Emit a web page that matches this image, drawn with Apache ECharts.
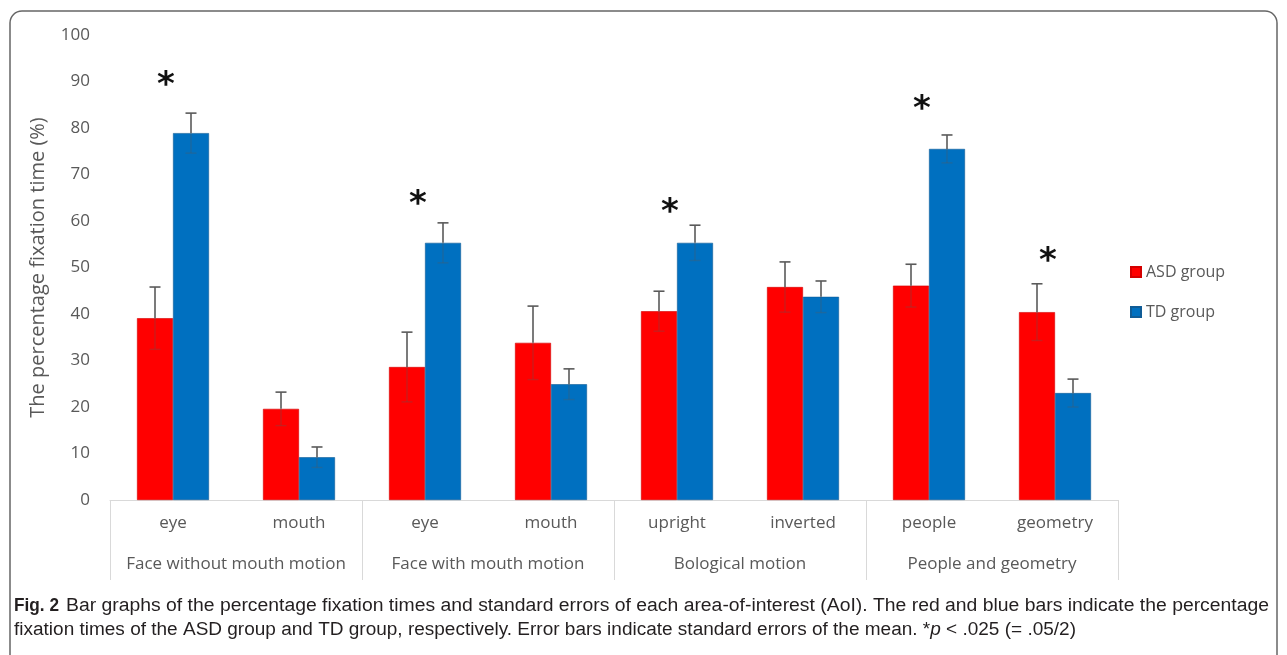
<!DOCTYPE html>
<html>
<head>
<meta charset="utf-8">
<script src="https://cdn.jsdelivr.net/npm/echarts@6/dist/echarts.min.js"></script>
<style>
  html, body { margin: 0; padding: 0; background: #fff; }
  #chart { width: 1287px; height: 655px; }
</style>
</head>
<body>
<div id="chart"></div>
<script>
// 子类别（AoI）与分组
const aoiLabels = ["eye", "mouth", "eye", "mouth", "upright", "inverted", "people", "geometry"];
const groupLabels = ["Face without mouth motion", "Face with mouth motion", "Bological motion", "People and geometry"];

// y 轴刻度
const yMin = 0;
const yMax = 100;
const yStep = 10;

// 注视时间百分比与标准误
const asdMean = [39.1, 19.6, 28.6, 33.8, 40.6, 45.8, 46.1, 40.4];
const asdSe = [6.7, 3.6, 7.5, 7.9, 4.3, 5.4, 4.6, 6.1];
const tdMean = [78.9, 9.2, 55.3, 24.9, 55.3, 43.7, 75.5, 23.0];
const tdSe = [4.3, 2.2, 4.3, 3.3, 3.8, 3.4, 3.0, 3.0];

// 显著性星号的高度（null 表示无）
const sigHeight = [90.8, null, 65.2, null, 63.4, null, 85.6, 52.9];

const captionBold = "Fig. 2";
const captionLine1 = "Bar graphs of the percentage fixation times and standard errors of each area-of-interest (AoI). The red and blue bars indicate the percentage";
const captionLine2a = "fixation times of the ASD group and TD group, respectively. Error bars indicate standard errors of the mean. *";
const captionLine2b = "p";
const captionLine2c = " < .025 (= .05/2)";

const labelFont = "'Open Sans', 'Noto Sans', sans-serif";
const capFont = "'Liberation Sans', Arial, sans-serif";
const capSize = 18;
const grey = "#595959";

// 用 canvas 量文字宽度，再横向缩放以贴合原图
const mctx = document.createElement("canvas").getContext("2d");
function textW(str, font) {
  mctx.font = font;
  return mctx.measureText(str).width;
}
const capNormal = capSize + "px " + capFont;
const cap1Scale = 1203 / textW(captionLine1, capNormal);
const cap2W = textW(captionLine2a, capNormal)
  + textW(captionLine2b, "italic " + capNormal)
  + textW(captionLine2c, capNormal);
const cap2Scale = 1062 / cap2W;
const boldScale = 45 / textW(captionBold, "bold " + capNormal);

const barW = 36;

function errorSeries(mean, se, shift) {
  return {
    type: "custom",
    xAxisIndex: 0,
    z: 5,
    silent: true,
    data: mean.map((m, i) => [i, m, se[i]]),
    renderItem(params, api) {
      const i = api.value(0), m = api.value(1), e = api.value(2);
      const base = api.coord([i, m]);
      const top = api.coord([i, m + e]);
      const bot = api.coord([i, m - e]);
      const x = base[0] + shift;
      const c = 5.5;
      const dark = { stroke: "#5a5a5a", lineWidth: 1.6 };
      const faint = { stroke: "rgba(90,90,90,0.3)", lineWidth: 1.4 };
      return {
        type: "group",
        children: [
          { type: "line", shape: { x1: x, y1: base[1], x2: x, y2: top[1] }, style: dark },
          { type: "line", shape: { x1: x - c, y1: top[1], x2: x + c, y2: top[1] }, style: dark },
          { type: "line", shape: { x1: x, y1: base[1], x2: x, y2: bot[1] }, style: faint },
          { type: "line", shape: { x1: x - c, y1: bot[1], x2: x + c, y2: bot[1] }, style: faint },
        ],
      };
    },
  };
}

const chart = echarts.init(document.getElementById("chart"));

const option = {
  animation: false,
  backgroundColor: "#fff",
  grid: { left: 110, right: 169, top: 35, bottom: 155, containLabel: false },
  legend: {
    orient: "vertical",
    left: 1125,
    top: 259,
    itemWidth: 10,
    itemHeight: 10,
    itemGap: 24,
    icon: "rect",
    data: ["ASD group", "TD group"],
    textStyle: { color: grey, fontSize: 16, fontFamily: labelFont },
  },
  xAxis: [
    {
      type: "category",
      data: aoiLabels,
      position: "bottom",
      axisLine: { lineStyle: { color: "#d9d9d9", width: 1 } },
      axisTick: { show: false },
      axisLabel: { color: grey, fontSize: 17, fontFamily: labelFont, margin: 15, interval: 0 },
    },
    {
      type: "category",
      data: groupLabels,
      position: "bottom",
      axisLine: { show: false },
      axisTick: { show: true, length: 80, lineStyle: { color: "#d9d9d9", width: 1 } },
      axisLabel: { color: grey, fontSize: 17, fontFamily: labelFont, margin: 56, interval: 0 },
    },
  ],
  yAxis: {
    type: "value",
    min: yMin,
    max: yMax,
    interval: yStep,
    name: "The percentage fixation time (%)",
    nameLocation: "middle",
    nameGap: 62,
    nameTextStyle: { color: grey, fontSize: 20, fontFamily: labelFont },
    axisLine: { show: false },
    axisTick: { show: false },
    splitLine: { show: false },
    axisLabel: { color: grey, fontSize: 17, fontFamily: labelFont, margin: 20 },
  },
  series: [
    {
      name: "ASD group",
      type: "bar",
      data: asdMean,
      barWidth: barW,
      barGap: "0%",
      itemStyle: { color: "#ff0000", borderColor: "#d40000", borderWidth: 0.6 },
    },
    {
      name: "TD group",
      type: "bar",
      data: tdMean,
      barWidth: barW,
      barGap: "0%",
      itemStyle: { color: "#0070c0", borderColor: "#105c96", borderWidth: 0.6 },
    },
    errorSeries(asdMean, asdSe, -barW / 2),
    errorSeries(tdMean, tdSe, barW / 2),
    {
      type: "custom",
      xAxisIndex: 0,
      z: 6,
      silent: true,
      data: sigHeight.map((h, i) => [i, h]).filter((d) => d[1] != null),
      renderItem(params, api) {
        const p = api.coord([api.value(0), api.value(1)]);
        return {
          type: "text",
          x: p[0] - 7,
          y: p[1] + 8,
          style: {
            text: "*",
            fill: "#111",
            font: "bold 34px 'DejaVu Sans', sans-serif",
            align: "center",
            verticalAlign: "middle",
          },
        };
      },
    },
  ],
  graphic: [
    {
      type: "rect",
      silent: true,
      shape: { x: 10, y: 11, width: 1267, height: 700, r: 12 },
      style: { fill: "none", stroke: "#666", lineWidth: 1.5 },
    },
    {
      type: "text",
      x: 14,
      y: 606,
      scaleX: boldScale,
      style: { text: captionBold, x: 0, y: 0, font: "bold " + capNormal, fill: "#231f20", verticalAlign: "middle" },
    },
    {
      type: "text",
      x: 66,
      y: 606,
      scaleX: cap1Scale,
      style: { text: captionLine1, x: 0, y: 0, font: capNormal, fill: "#231f20", verticalAlign: "middle" },
    },
    {
      type: "text",
      x: 14,
      y: 630,
      scaleX: cap2Scale,
      style: {
        x: 0,
        y: 0,
        text: captionLine2a + "{i|" + captionLine2b + "}" + captionLine2c,
        font: capNormal,
        fill: "#231f20",
        verticalAlign: "middle",
        rich: { i: { fontStyle: "italic", fontSize: capSize, fontFamily: capFont, fill: "#231f20" } },
      },
    },
  ],
};

chart.setOption(option);
window.addEventListener("resize", () => chart.resize());
</script>
</body>
</html>
